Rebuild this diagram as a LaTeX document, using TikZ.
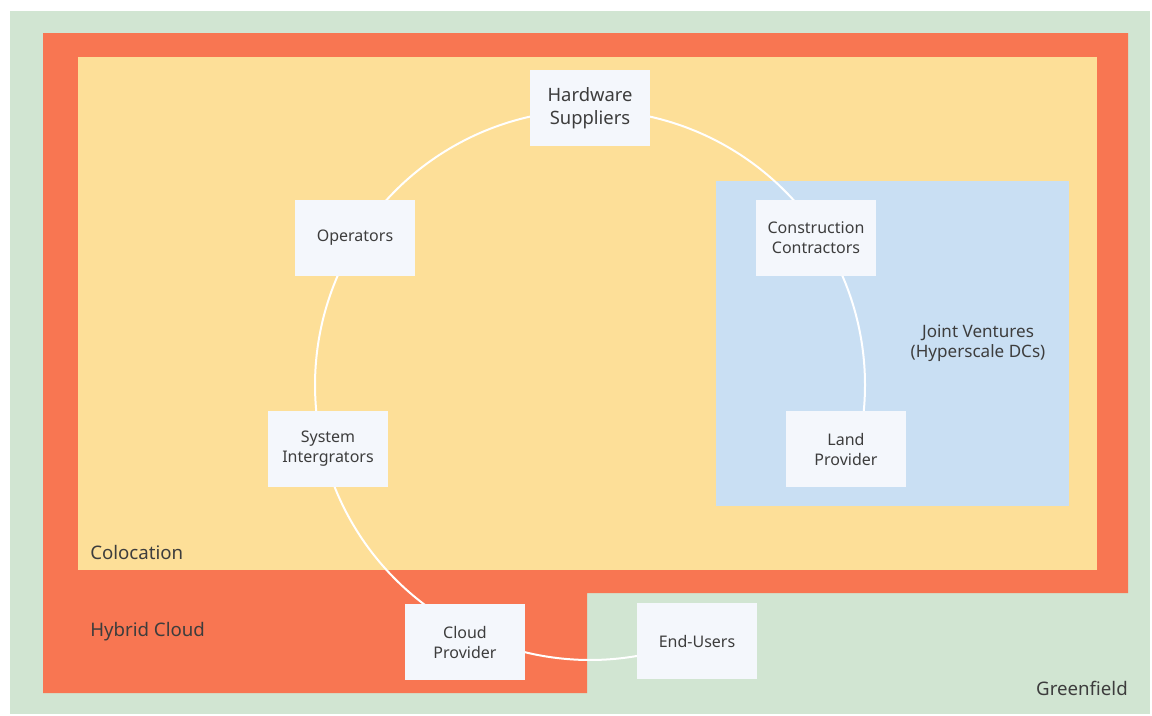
\documentclass[tikz,border=0pt]{standalone}
\usepackage{fontspec}
\setmainfont{Noto Sans}
\usetikzlibrary{calc}
\definecolor{greenfield}{HTML}{D1E5D2}
\definecolor{hybrid}{HTML}{F87652}
\definecolor{coloc}{HTML}{FDDF98}
\definecolor{joint}{HTML}{C9DFF3}
\definecolor{boxfill}{HTML}{F4F7FC}
\definecolor{ink}{HTML}{3D3D3D}
\pgfdeclarelayer{regions}
\pgfdeclarelayer{links}
\pgfsetlayers{regions,links,main}
\tikzset{
  actor/.style={fill=boxfill, minimum width=90pt, minimum height=57pt,
    align=center, text=ink, font=\fontsize{12}{15}\selectfont, inner sep=2pt},
  bigactor/.style={actor, font=\fontsize{13.8}{17.25}\selectfont},
  zonelabel/.style={text=ink, font=\fontsize{14}{15}\selectfont, inner sep=0pt},
  ring/.style={draw=white, line width=1.5pt}
}
\begin{document}
\begin{tikzpicture}[x=0.75pt, y=-0.75pt]
\useasboundingbox (0,0) rectangle (1152,715);

% nested market zones
\begin{pgfonlayer}{regions}
  \fill[white] (0,0) rectangle (1152,715);
  \fill[greenfield] (10,11) rectangle (1150,714);
  \fill[hybrid] (43,33) -- (1128,33) -- (1128,593) -- (587,593)
                -- (587,693) -- (43,693) -- cycle;
  \fill[coloc] (78,57) rectangle (1097,570);
  \fill[joint] (716,181) rectangle (1069,506);
\end{pgfonlayer}

\node[zonelabel, anchor=west] (lcoloc) at (90,552) {Colocation};
\node[zonelabel, anchor=west] (lhybrid) at (90,632) {Hybrid Cloud};
\node[zonelabel, anchor=east] (lgreen) at (1128,688) {Greenfield};
\node[zonelabel, align=center, font=\fontsize{12.8}{15}\selectfont] (ljoint) at (978,343)
  {Joint Ventures\\(Hyperscale DCs)};

% ecosystem actors
\coordinate (O) at (590,385);
\node[bigactor] (hw)  at (590,108) {Hardware\\Suppliers};
\node[actor]    (ops) at (355,238) {Operators};
\node[actor]    (cc)  at (816,238) {Construction\\Contractors};
\node[actor]    (si)  at (328,449) {System\\Intergrators};
\node[actor]    (lp)  at (846,449) {Land\\Provider};
\node[actor]    (cp)  at (465,642) {Cloud\\Provider};
\node[actor]    (eu)  at (697,641) {End-Users};

% ring links: arcs of one circle between neighbouring actors
\begin{pgfonlayer}{links}
\foreach \a/\b in {hw/cc, cc/lp, hw/ops, ops/si, si/cp, cp/eu}{
  \draw[ring] let \p1=($(\a)-(O)$), \p2=($(\b)-(O)$),
    \n1={atan2(\y1,\x1)}, \n2={atan2(\y2,\x2)},
    \n3={mod(\n2-\n1+540,360)-180} in
    ($(O)+(\n1:206.25pt)$) arc[start angle=\n1, delta angle=\n3, radius=206.25pt];
}
\end{pgfonlayer}
\end{tikzpicture}
\end{document}
